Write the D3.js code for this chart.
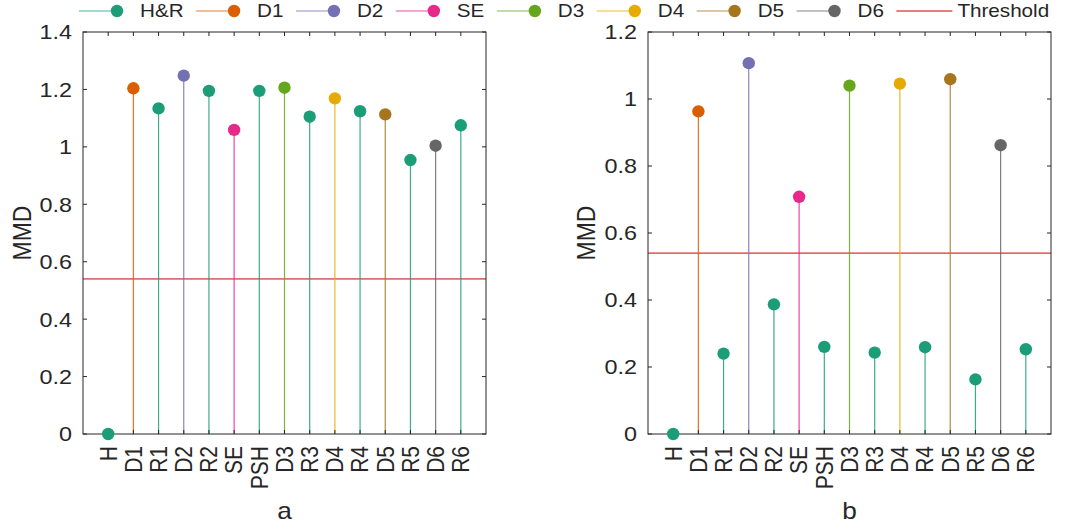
<!DOCTYPE html>
<html>
<head>
<meta charset="utf-8">
<script src="https://cdn.jsdelivr.net/npm/d3@7/dist/d3.min.js"></script>
<style>
  html, body { margin: 0; padding: 0; background: #fff; }
  svg { display: block; }
  text { font-family: "Liberation Sans", Arial, Helvetica, sans-serif; fill: #262626; }
</style>
</head>
<body>
<svg id="chart" width="1078" height="529"></svg>
<script>
// ---------------- DATA ----------------
const categories = ["H", "D1", "R1", "D2", "R2", "SE", "PSH", "D3", "R3", "D4", "R4", "D5", "R5", "D6", "R6"];
const categorySeries = ["H&R", "D1", "H&R", "D2", "H&R", "SE", "H&R", "D3", "H&R", "D4", "H&R", "D5", "H&R", "D6", "H&R"];
const valuesA = [0, 1.204, 1.134, 1.248, 1.195, 1.059, 1.195, 1.206, 1.105, 1.169, 1.124, 1.113, 0.954, 1.004, 1.075];
const valuesB = [0, 0.963, 0.240, 1.107, 0.387, 0.708, 0.260, 1.040, 0.243, 1.046, 0.259, 1.059, 0.163, 0.862, 0.253];
const thresholdA = 0.54;
const thresholdB = 0.54;
const yTicksA = [0, 0.2, 0.4, 0.6, 0.8, 1, 1.2, 1.4];
const yTicksB = [0, 0.2, 0.4, 0.6, 0.8, 1, 1.2];
const panelLabels = ["a", "b"];
const yAxisTitle = "MMD";
const legendSeries = ["H&R", "D1", "D2", "SE", "D3", "D4", "D5", "D6"];
const legendThreshold = "Threshold";
const seriesColors = ["#1b9e77", "#d95f02", "#7570b3", "#e7298a", "#66a61e", "#e6ab02", "#a6761d", "#666666"];
const thresholdColor = "#c80000";

// ---------------- LAYOUT ----------------
const svg = d3.select("#chart");
const axisColor = "#262626";
const SX = 1.14; // horizontal glyph stretch
const colorOf = d3.scaleOrdinal().domain(legendSeries).range(seriesColors);

function stretchedText(parent, x, y, str, size, opts = {}) {
  const g = parent.append("g");
  const rot = opts.rotate ? ` rotate(${opts.rotate})` : "";
  const sc = opts.rotate ? ` scale(1,${opts.sx || SX})` : ` scale(${opts.sx || SX},1)`;
  g.attr("transform", `translate(${x},${y})${rot}${sc}`);
  const t = g.append("text")
    .attr("x", 0).attr("y", 0)
    .attr("dy", opts.dy || "0")
    .attr("text-anchor", opts.anchor || "start")
    .style("font-size", size + "px")
    .text(str);
  return t;
}

function drawPanel(cfg) {
  const { left, right, top, bottom, values, yTicks, yMax, threshold, label } = cfg;
  const x = d3.scaleLinear().domain([0, categories.length + 1]).range([left, right]);
  const y = d3.scaleLinear().domain([0, yMax]).range([bottom, top]);
  const g = svg.append("g");
  const tickLen = 4;

  // threshold
  g.append("line")
    .attr("x1", left).attr("x2", right)
    .attr("y1", y(threshold)).attr("y2", y(threshold))
    .attr("stroke", thresholdColor).attr("stroke-width", 1);

  // stems
  g.selectAll("line.stem").data(values).enter().append("line")
    .attr("class", "stem")
    .attr("x1", (d, i) => x(i + 1)).attr("x2", (d, i) => x(i + 1))
    .attr("y1", y(0)).attr("y2", d => y(d))
    .attr("stroke", (d, i) => colorOf(categorySeries[i]))
    .attr("stroke-opacity", 0.85)
    .attr("stroke-width", 1.2);

  // box
  g.append("rect")
    .attr("x", left).attr("y", top)
    .attr("width", right - left).attr("height", bottom - top)
    .attr("fill", "none").attr("stroke", axisColor).attr("stroke-width", 1);

  // x ticks (bottom & top, inward)
  categories.forEach((c, i) => {
    const xp = x(i + 1);
    g.append("line").attr("x1", xp).attr("x2", xp).attr("y1", bottom).attr("y2", bottom - tickLen)
      .attr("stroke", axisColor).attr("stroke-width", 1);
    g.append("line").attr("x1", xp).attr("x2", xp).attr("y1", top).attr("y2", top + tickLen)
      .attr("stroke", axisColor).attr("stroke-width", 1);
    stretchedText(g, xp, bottom + 12, c, 21, { rotate: -90, anchor: "end", dy: "0.36em", sx: 1.1 });
  });

  // y ticks (left & right, inward)
  yTicks.forEach(t => {
    const yp = y(t);
    g.append("line").attr("x1", left).attr("x2", left + tickLen).attr("y1", yp).attr("y2", yp)
      .attr("stroke", axisColor).attr("stroke-width", 1);
    g.append("line").attr("x1", right).attr("x2", right - tickLen).attr("y1", yp).attr("y2", yp)
      .attr("stroke", axisColor).attr("stroke-width", 1);
    stretchedText(g, left - 11, yp, d3.format("~g")(t), 20.5, { anchor: "end", dy: "0.36em" });
  });

  // markers
  g.selectAll("circle.pt").data(values).enter().append("circle")
    .attr("class", "pt")
    .attr("cx", (d, i) => x(i + 1)).attr("cy", d => y(d))
    .attr("r", 6.2)
    .attr("fill", (d, i) => colorOf(categorySeries[i]));

  // y title
  stretchedText(g, cfg.titleX, (top + bottom) / 2, yAxisTitle, 23, { rotate: -90, anchor: "middle", dy: "0", sx: 1.14 });
  // panel label
  stretchedText(g, (left + right) / 2, 519, label, 23, { anchor: "middle" });
}

drawPanel({ left: 83, right: 486, top: 32, bottom: 434, values: valuesA, yTicks: yTicksA, yMax: 1.4,
  threshold: thresholdA, label: panelLabels[0], titleX: 31 });
drawPanel({ left: 648, right: 1051, top: 32, bottom: 434, values: valuesB, yTicks: yTicksB, yMax: 1.2,
  threshold: thresholdB, label: panelLabels[1], titleX: 595 });

// ---------------- LEGEND ----------------
const leg = svg.append("g");
const legY = 11;
let cx = 79;
const LSX = 1.18;
legendSeries.forEach((name, i) => {
  const col = seriesColors[i];
  leg.append("line").attr("x1", cx).attr("x2", cx + 38).attr("y1", legY).attr("y2", legY)
    .attr("stroke", col).attr("stroke-opacity", 0.8).attr("stroke-width", 1.2);
  leg.append("circle").attr("cx", cx + 38).attr("cy", legY).attr("r", 6.2).attr("fill", col);
  const t = stretchedText(leg, cx + 61, legY, name, 17.5, { anchor: "start", dy: "0.36em", sx: LSX });
  const w = t.node().getComputedTextLength() * LSX;
  cx = cx + 61 + w + 12.5;
});
leg.append("line").attr("x1", cx).attr("x2", cx + 56).attr("y1", legY).attr("y2", legY)
  .attr("stroke", thresholdColor).attr("stroke-width", 1);
stretchedText(leg, cx + 61, legY, legendThreshold, 17.5, { anchor: "start", dy: "0.36em", sx: LSX });
</script>
</body>
</html>
